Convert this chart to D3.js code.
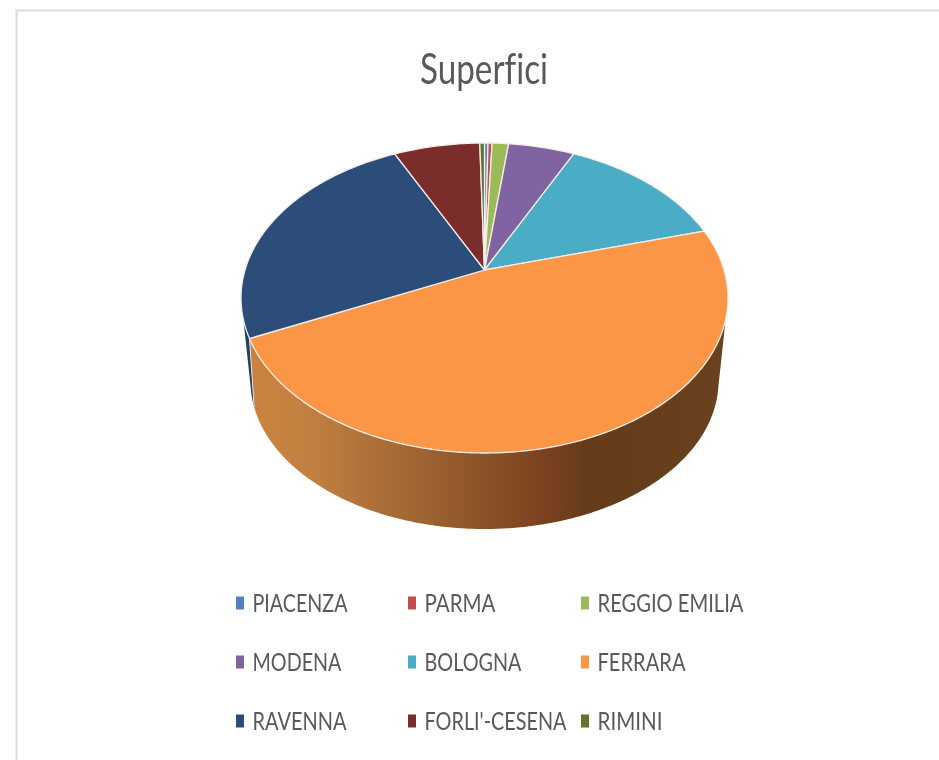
<!DOCTYPE html>
<html><head><meta charset="utf-8">
<script src="https://cdn.jsdelivr.net/npm/d3@7"></script>
<style>html,body{margin:0;padding:0;background:#fff}svg{display:block;filter:blur(0.35px)}text{font-family:Lato,"Open Sans",sans-serif;fill:#595959;font-variant-ligatures:none;font-feature-settings:"liga" 0}</style>
</head><body><svg id="c" width="939" height="760"></svg>
<script>
const titleText = "Superfici";
const categories = ["PIACENZA","PARMA","REGGIO EMILIA","MODENA","BOLOGNA","FERRARA","RAVENNA","FORLI'-CESENA","RIMINI"];
const shares = [0.23,0.27,1.08,4.39,11.92,52.9,23.2,5.7,0.31];
const colors = ["#4f81bd","#c0504d","#9bbb59","#8064a2","#4bacc6","#fa9645","#2c4d7a","#7b2d2c","#5f7530"];
const wallColors = {"FERRARA":"url(#wallOrange)","RAVENNA":"#223f68"};
const labelWidths = [95,71,146,89,97,88,94,142,65];
const wallStops = [[0,"#cb8240"],[0.12,"#c28040"],[0.38,"#9a6030"],[0.62,"#7a401e"],[0.7,"#653b1a"],[1,"#6a421e"]];

const W=939,H=760, cx=484.5, cy=298, rx=243.5, ry=155, apexY=270;
const bcx=484.5, bcy=381, brx=234, bry=148;
const svg=d3.select("#c");
const defs=svg.append("defs");
const grad=defs.append("linearGradient").attr("id","wallOrange").attr("gradientUnits","userSpaceOnUse")
  .attr("x1",255).attr("x2",728).attr("y1",0).attr("y2",0);
grad.selectAll("stop").data(wallStops).join("stop").attr("offset",d=>d[0]).attr("stop-color",d=>d[1]);

// frame
svg.append("path").attr("d",`M16.5,${H}V10.5H${W}`).attr("fill","none").attr("stroke","#dcdcdc").attr("stroke-width",2);

// title
svg.append("text").text(titleText).attr("x",484).attr("y",84).attr("text-anchor","middle")
  .attr("font-size",42).attr("textLength",128).attr("lengthAdjust","spacingAndGlyphs");

const pie=d3.pie().sort(null).value(d=>d)(shares);
const visFrom=98*Math.PI/180, visTo=262*Math.PI/180;
const bottomAngle=d3.scaleLinear().domain([Math.PI,2*Math.PI]).range([Math.PI,Math.PI+Math.PI*1.067]);
const topPt=t=>[cx+rx*Math.sin(t),cy-ry*Math.cos(t)];
const botPt=t=>{const a=bottomAngle(t);return [bcx+brx*Math.sin(a),bcy-bry*Math.cos(a)];};
const sweep=(a,b)=>{const n=Math.max(2,Math.ceil((b-a)*90));return d3.range(n+1).map(k=>a+(b-a)*k/n);};

// side walls
const walls=pie.map((p,i)=>({name:categories[i],a:Math.max(p.startAngle,visFrom),b:Math.min(p.endAngle,visTo),i})).filter(d=>d.b>d.a);
svg.append("g").selectAll("path").data(walls).join("path")
  .attr("d",d=>{
    const ts=sweep(d.a,d.b);
    return d3.line()(ts.map(topPt).concat(ts.slice().reverse().map(botPt)))+"Z";
  })
  .attr("fill",d=>wallColors[d.name]||colors[d.i]);
// seam between walls
svg.append("g").selectAll("line").data(walls.filter(d=>d.b<visTo)).join("line")
  .attr("x1",d=>topPt(d.b)[0]).attr("y1",d=>topPt(d.b)[1])
  .attr("x2",d=>botPt(d.b)[0]).attr("y2",d=>botPt(d.b)[1])
  .attr("stroke","#e8e4e0").attr("stroke-width",1);

// top face: slices converge on the perspective apex, above the ellipse centre
svg.append("g").selectAll("path").data(pie).join("path")
  .attr("d",d=>d3.line()([[cx,apexY]].concat(sweep(d.startAngle,d.endAngle).map(topPt)))+"Z")
  .attr("fill",(d,i)=>colors[i])
  .attr("stroke","#f2eeea").attr("stroke-width",1.3).attr("stroke-linejoin","round");

// legend
const colX=d3.scaleOrdinal().domain([0,1,2]).range([236,408,581]);
const rowY=d3.scaleOrdinal().domain([0,1,2]).range([603,662,721]);
const items=svg.append("g").selectAll("g").data(categories).join("g")
  .attr("transform",(d,i)=>`translate(${colX(i%3)},${rowY(Math.floor(i/3))})`);
items.append("rect").attr("x",0).attr("y",-6.5).attr("width",8).attr("height",13).attr("fill",(d,i)=>colors[i]);
items.append("text").text(d=>d).attr("x",16.5).attr("y",9).attr("font-size",25)
  .attr("textLength",(d,i)=>labelWidths[i]).attr("lengthAdjust","spacingAndGlyphs");
</script></body></html>
